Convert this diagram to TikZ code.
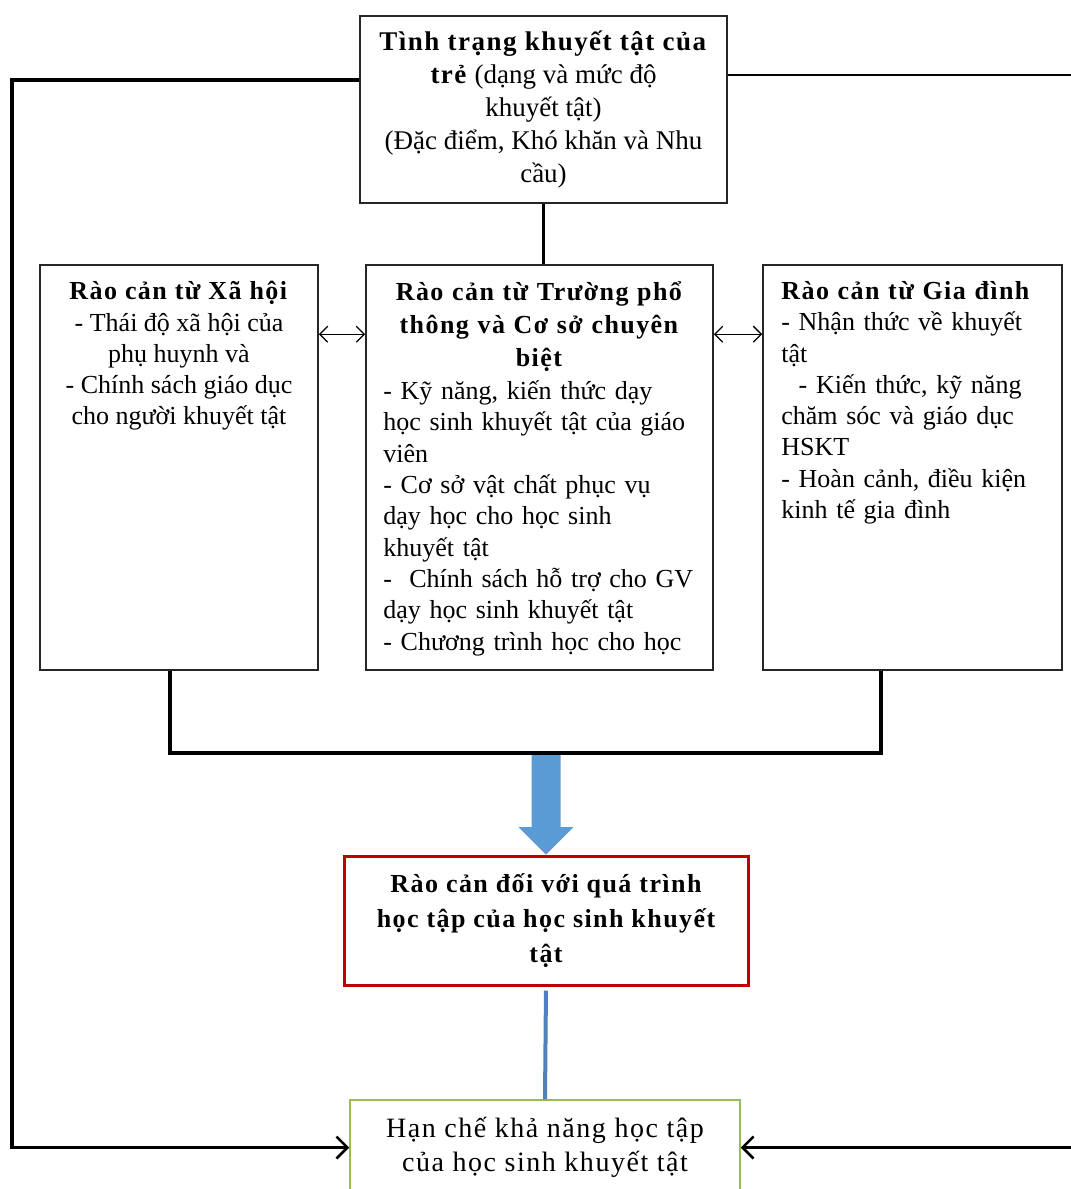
\documentclass[tikz,border=0pt]{standalone}
\usepackage{fontspec}
\setmainfont{Liberation Serif}[BoldFeatures={LetterSpace=5.5}]
\usepackage{tikz}
\usetikzlibrary{calc,arrows.meta}

\definecolor{redframe}{RGB}{192,0,0}
\definecolor{greenframe}{RGB}{155,187,89}
\definecolor{bluearrow}{RGB}{91,155,213}
\definecolor{blueline}{RGB}{79,129,189}

\begin{document}
\begin{tikzpicture}[x=1pt,y=-1pt,
        box/.style={draw=black!85,line width=1.6pt,inner sep=0pt},
        txt/.style={font=\fontsize{26}{31.3}\selectfont,inner sep=0pt},
        bold line/.style={line width=3.5pt},
        tip/.style={-{Straight Barb[length=11pt,width=22pt,line width=2.5pt]}},
        both tips/.style={line width=1.3pt,{Straight Barb[length=8pt,width=16pt]}-{Straight Barb[length=8pt,width=16pt]}}]

        \useasboundingbox (0,0) rectangle (1071,1189);

        % boxes
        \node[box,minimum width=367pt,minimum height=187pt,align=center,font=\fontsize{27}{32.8}\selectfont] (tinhtrang) at (543.5,109.5)
            {\textbf{Tình trạng khuyết tật của}\\ \textbf{trẻ} (dạng và mức độ\\ khuyết tật)\\ (Đặc điểm, Khó khăn và Nhu\\ cầu)};

        \node[box,minimum width=278pt,minimum height=405pt] (xahoi) at (179,467.5) {};
        \node[box,minimum width=347pt,minimum height=405pt] (truong) at (539.5,467.5) {};
        \node[box,minimum width=299pt,minimum height=405pt] (giadinh) at (912.5,467.5) {};

        \node[txt,anchor=north,align=center] at ([yshift=-17pt]xahoi.north)
            {\textbf{Rào cản từ Xã hội}\\ - Thái độ xã hội của\\ phụ huynh và\\ - Chính sách giáo dục\\ cho người khuyết tật};
        \node[txt,anchor=north west,text width=311pt,align=left] at ([xshift=18pt,yshift=-17pt]truong.north west)
            {{\centering\bfseries\fontsize{26}{33}\selectfont Rào cản từ Trường phổ\\ thông và Cơ sở chuyên\\ biệt\par}\vspace{2pt}
            - Kỹ năng, kiến thức dạy\\ học sinh khuyết tật của giáo\\ viên\\
            - Cơ sở vật chất phục vụ\\ dạy học cho học sinh\\ khuyết tật\\
            -\ \ Chính sách hỗ trợ cho GV\\ dạy học sinh khuyết tật\\
            - Chương trình học cho học};
        \node[txt,anchor=north west,text width=275pt,align=left] at ([xshift=19pt,yshift=-17pt]giadinh.north west)
            {\textbf{Rào cản từ Gia đình}\\ - Nhận thức về khuyết\\ tật\\
            \ \ - Kiến thức, kỹ năng\\ chăm sóc và giáo dục\\ HSKT\\
            - Hoàn cảnh, điều kiện\\ kinh tế gia đình};

        \node[draw=redframe,line width=3pt,minimum width=404pt,minimum height=129pt,align=center,font=\fontsize{26}{35}\selectfont\bfseries] (raocan) at (546,920.5)
            {Rào cản đối với quá trình\\ học tập của học sinh khuyết\\ tật};
        \node[draw=greenframe,line width=1.5pt,minimum width=390pt,minimum height=95pt,align=center,font=\fontsize{28}{34}\selectfont\addfontfeature{LetterSpace=5.5}] (hanche) at (545,1147.5)
            {Hạn chế khả năng học tập\\ của học sinh khuyết tật};

        % connectors
        \coordinate (loopL) at (12,80);
        \coordinate (loopR) at (1076,75);
        \coordinate (joinL) at (170,753);
        \coordinate (joinR) at (881,753);
        \coordinate (joinM) at (546,753);

        \fill[bluearrow] ($(joinM)+(-14.5,0)$) -- ($(joinM)+(-14.5,74)$) -- ($(joinM)+(-27.5,74)$)
            -- (raocan.north) -- ($(joinM)+(27.5,74)$) -- ($(joinM)+(14.5,74)$) -- ($(joinM)+(14.5,0)$) -- cycle;
        \draw[blueline,line width=4pt,shorten <=4pt] (raocan.south) -- (hanche.north);

        \draw[bold line] (tinhtrang.south) -- (tinhtrang.south |- truong.north);
        \draw[bold line,tip] (tinhtrang.west |- loopL) -- (loopL) |- (hanche.west);
        \draw[line width=2pt] (tinhtrang.east |- loopR) -- (loopR) -- ++(0,1072);
        \draw[bold line,tip] (loopR |- hanche.east) -- (hanche.east);

        \draw[both tips] ($(xahoi.north east)+(0,70)$) -- ($(truong.north west)+(0,70)$);
        \draw[both tips] ($(truong.north east)+(0,70)$) -- ($(giadinh.north west)+(0,70)$);

        \draw[bold line] (xahoi.south -| joinL) -- (joinL) -- (joinR) -- (giadinh.south -| joinR);
    \end{tikzpicture}
\end{document}
